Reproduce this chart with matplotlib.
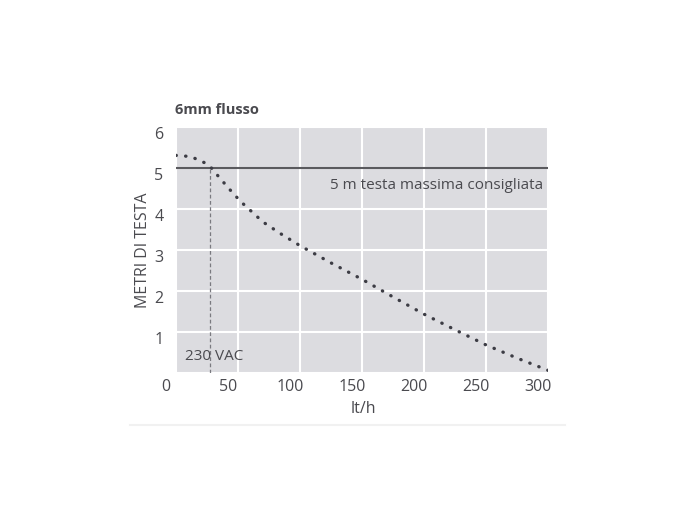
import numpy as np
import matplotlib.pyplot as plt
from matplotlib.transforms import ScaledTranslation

# dati (lt/h, metri di testa)
portata = [0, 6, 13, 18.5, 24, 27.8, 35, 43, 52, 61, 70, 85, 100, 125, 150, 175, 200, 225, 250, 275, 301]
prevalenza = [5.30, 5.29, 5.26, 5.18, 5.11, 5.02, 4.76, 4.48, 4.18, 3.93, 3.68, 3.38, 3.10, 2.68, 2.28, 1.85, 1.43, 1.05, 0.68, 0.36, 0.05]
x_ticks = [0, 50, 100, 150, 200, 250, 300]
y_ticks = [0, 1, 2, 3, 4, 5, 6]
y_labels = ['', '1', '2', '3', '4', '5', '6']  # lo "0" in basso e' uno solo
testa_max = 5
x_230vac = 27.8

col_testo = '#4a4a4f'
plt.rcParams['font.family'] = ['Open Sans', 'DejaVu Sans']

fig = plt.figure(figsize=(7, 5.2), dpi=100)
ax = fig.add_axes([0.2514, 0.2827, 0.532, 0.4737])
ax.set_facecolor('#dcdce0')
ax.set_xlim(0, 300)
ax.set_ylim(0, 6)
for s in ax.spines.values():
    s.set_visible(False)

ax.set_xticks(x_ticks)
ax.set_yticks(y_ticks, y_labels)
ax.tick_params(length=0, labelsize=11.5, labelcolor=col_testo)
ax.tick_params(axis='x', pad=4)
ax.tick_params(axis='y', pad=9)
ax.grid(True, color='white', lw=1.5)
ax.set_axisbelow(True)

# etichette spostate come nell'originale
for lab in ax.get_xticklabels():
    lab.set_transform(lab.get_transform() + ScaledTranslation(-0.10, 0, fig.dpi_scale_trans))
for lab in ax.get_yticklabels():
    lab.set_transform(lab.get_transform() + ScaledTranslation(0, -0.06, fig.dpi_scale_trans))

ax.axhline(testa_max, color='#5a5a5e', lw=1.5, zorder=3)
ax.plot([x_230vac, x_230vac], [0, testa_max], color='#7a7a80', lw=0.9, ls=(0, (3, 2)), zorder=3)
ax.plot(portata, prevalenza, color='#3c3c44', lw=2.4, ls=(0, (0.1, 2.8)),
        dash_capstyle='round', zorder=4)

ax.text(296, 4.57, '5 m testa massima consigliata', ha='right', va='center',
        fontsize=11, color=col_testo)
ax.text(7, 0.39, '230 VAC', ha='left', va='center', fontsize=11, color=col_testo)

ax.set_xlabel('lt/h', fontsize=11.5, color=col_testo)
ax.xaxis.set_label_coords(0.502, -0.112)
ax.set_ylabel('METRI DI TESTA', fontsize=11.5, color=col_testo)
ax.yaxis.set_label_coords(-0.068, 0.5)
fig.text(0.25, 0.788, '6mm flusso', fontsize=10.5, fontweight='bold', color=col_testo,
         ha='left', va='center')

fig.add_artist(plt.Line2D([0.186, 0.807], [0.183, 0.183], color='#f1f1f1', lw=1.5))

fig.savefig('out.png', dpi=100)
